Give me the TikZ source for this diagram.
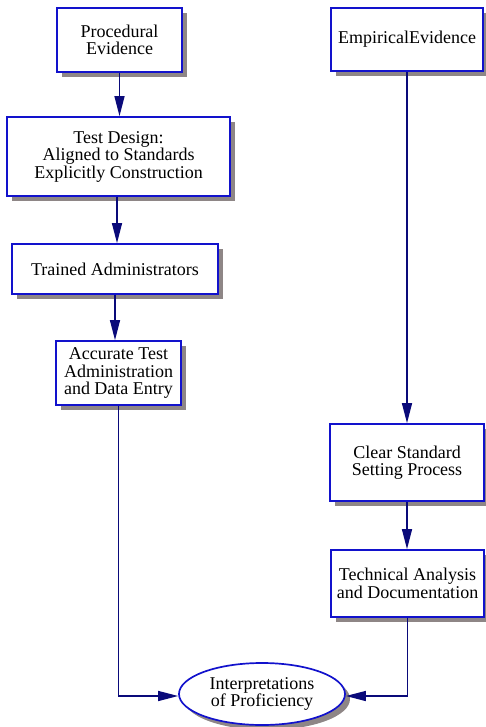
\documentclass[tikz,border=0pt]{standalone}
\usepackage{fontspec}
\setmainfont{Liberation Serif}
\usepackage{tikz}
\usetikzlibrary{arrows.meta,positioning,shapes.geometric,shadows}
\definecolor{boxblue}{HTML}{1212CC}
\definecolor{arrownavy}{HTML}{0A0A7A}
\definecolor{shadowgrey}{HTML}{8E8686}
\tikzset{
  stepbox/.style={rectangle, draw=boxblue, fill=white, line width=1.7pt, align=center, inner sep=0pt,
    font=\fontsize{18}{17.5}\selectfont,
    drop shadow={shadow xshift=5pt, shadow yshift=-5pt, fill=shadowgrey, opacity=1}},
  outcome/.style={ellipse, draw=boxblue, fill=white, line width=1.7pt, align=center, inner sep=0pt,
    font=\fontsize{18}{17.5}\selectfont,
    drop shadow={shadow xshift=5pt, shadow yshift=-5pt, fill=shadowgrey, opacity=1}},
  flow/.style={-{Triangle[length=20pt, width=10pt]}, line width=1.3pt, draw=arrownavy}
}
\begin{document}
\begin{tikzpicture}[x=1pt, y=-1pt]
  \useasboundingbox (0,0) rectangle (485,727);
  % procedural column
  \node[stepbox, minimum width=125pt, minimum height=64pt] (proc) at (119.5,40) {Procedural\\Evidence};
  \node[stepbox, minimum width=223pt, minimum height=79pt] (design) at (118.5,156.5) {Test Design:\\Aligned to Standards\\Explicitly Construction};
  \node[stepbox, minimum width=206pt, minimum height=50pt] (trained) at (115,269) {Trained Administrators};
  \node[stepbox, minimum width=125pt, minimum height=64pt] (accurate) at (118.5,373) {Accurate Test\\Administration\\and Data Entry};
  % empirical column
  \node[stepbox, minimum width=152pt, minimum height=63pt] (emp) at (407,39.5) {EmpiricalEvidence};
  \node[stepbox, minimum width=154pt, minimum height=77pt] (clear) at (407,462.5) {Clear Standard\\Setting Process};
  \node[stepbox, minimum width=153pt, minimum height=67pt] (tech) at (407.5,583.5) {Technical Analysis\\and Documentation};
  % result
  \node[outcome, minimum width=166pt, minimum height=62pt] (interp) at (262,694) {Interpretations\\of Proficiency};

  \draw[flow] (proc.south) -- (proc.south |- design.north);
  \draw[flow] ([xshift=-1.5pt]design.south) -- ([xshift=-1.5pt]design.south |- trained.north);
  \draw[flow] (trained.south) -- (trained.south |- accurate.north);
  \draw[flow] (emp.south) -- (emp.south |- clear.north);
  \draw[flow] (clear.south) -- (clear.south |- tech.north);
  \draw[flow] (accurate.south) |- ([yshift=-2pt]interp.west);
  \draw[flow] (tech.south) |- ([yshift=-2pt]interp.east);
\end{tikzpicture}
\end{document}
